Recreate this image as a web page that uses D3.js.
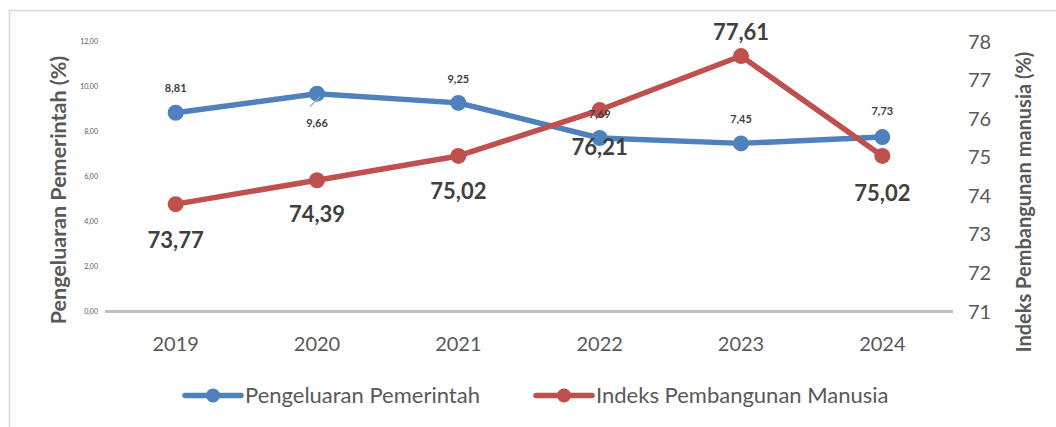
<!DOCTYPE html>
<html><head><meta charset="utf-8">
<script src="https://cdn.jsdelivr.net/npm/d3@7"></script>
<style>html,body{margin:0;padding:0;background:#fff;}svg{display:block;font-family:Lato,"Open Sans",sans-serif;}</style>
</head><body>
<svg id="c" width="1056" height="427"></svg>
<script>
const years = ["2019","2020","2021","2022","2023","2024"];
const pengeluaran = [8.81, 9.66, 9.25, 7.69, 7.45, 7.73];
const ipm = [73.77, 74.39, 75.02, 76.21, 77.61, 75.02];
const leftTicks = [0, 2, 4, 6, 8, 10, 12];
const rightTicks = [71, 72, 73, 74, 75, 76, 77, 78];
const seriesNames = ["Pengeluaran Pemerintah", "Indeks Pembangunan Manusia"];

const svg = d3.select("#c");
const blue = "#4F81BD", red = "#C0504D", txt = "#595959", lab = "#404040";
const fmt = v => v.toFixed(2).replace(".", ",");

// border
svg.append("path").attr("d","M9.5,427 L9.5,10.5 L1056,10.5").attr("fill","none").attr("stroke","#D9D9D9").attr("stroke-width",1.5);

const x = d3.scaleBand().domain(years).range([105, 953]);
const yL = d3.scaleLinear().domain([0, 12]).range([311, 41]);
const yR = d3.scaleLinear().domain([71, 78]).range([311, 41]);
const cx = d => x(d) + x.bandwidth()/2;

// left axis ticks
const gL = svg.append("g").attr("transform","translate(98,0)")
  .call(d3.axisLeft(yL).tickValues(leftTicks).tickSize(0).tickPadding(0).tickFormat(fmt));
gL.select(".domain").remove();
gL.selectAll("text").attr("font-size",7).attr("fill",txt).attr("font-family","Lato,sans-serif").attr("dy","0.35em");

// right axis ticks
const gR = svg.append("g").attr("transform","translate(968,0)")
  .call(d3.axisRight(yR).tickValues(rightTicks).tickSize(0).tickPadding(0).tickFormat(d3.format("d")));
gR.select(".domain").remove();
gR.selectAll("text").attr("font-size",20).attr("fill",txt).attr("font-family","Lato,sans-serif").attr("dy","0.35em");

// x axis
svg.append("line").attr("x1",105).attr("x2",953).attr("y1",311.5).attr("y2",311.5).attr("stroke","#BFBFBF").attr("stroke-width",3);
const gX = svg.append("g").attr("transform","translate(0,311)")
  .call(d3.axisBottom(x).tickSize(0).tickPadding(0));
gX.select(".domain").remove();
gX.selectAll("text").attr("font-size",20).attr("fill",txt).attr("font-family","Lato,sans-serif").attr("dy","0").attr("y",40);

// axis titles
svg.append("text").attr("transform","translate(66,190) rotate(-90)").attr("text-anchor","middle")
  .attr("font-size",21.5).attr("font-weight","bold").attr("fill",txt).text("Pengeluaran Pemerintah (%)");
svg.append("text").attr("transform","translate(1031,202) rotate(-90)").attr("text-anchor","middle")
  .attr("font-size",20).attr("font-weight","bold").attr("fill",txt).text("Indeks Pembangunan manusia (%)");

// lines
const lineL = d3.line().x((d,i)=>cx(years[i])).y(d=>yL(d));
const lineR = d3.line().x((d,i)=>cx(years[i])).y(d=>yR(d));
svg.append("path").attr("d",lineL(pengeluaran)).attr("fill","none").attr("stroke",blue).attr("stroke-width",5.5).attr("stroke-linejoin","round");
svg.selectAll(".pb").data(pengeluaran).enter().append("circle").attr("cx",(d,i)=>cx(years[i])).attr("cy",d=>yL(d)).attr("r",8).attr("fill",blue);
svg.append("path").attr("d",lineR(ipm)).attr("fill","none").attr("stroke",red).attr("stroke-width",5.5).attr("stroke-linejoin","round");
svg.selectAll(".pr").data(ipm).enter().append("circle").attr("cx",(d,i)=>cx(years[i])).attr("cy",d=>yR(d)).attr("r",8).attr("fill",red);

// blue labels: offsets relative to point
const blueOff = [-25, 29, -24, -24, -24, -26];
// leader line for 2020
svg.append("line").attr("x1",cx("2020")-7).attr("y1",yL(9.66)+13).attr("x2",cx("2020")+3).attr("y2",yL(9.66)+3).attr("stroke","#A6A6A6").attr("stroke-width",1.2);
svg.selectAll(".lb").data(pengeluaran).enter().append("text")
  .attr("x",(d,i)=>cx(years[i])).attr("y",(d,i)=>yL(d)+blueOff[i]).attr("text-anchor","middle").attr("dy","0.35em")
  .attr("font-size",11).attr("font-weight","bold").attr("fill",lab).text(d=>fmt(d));

const redOff = [36, 34, 35, 37, -24, 37];
svg.selectAll(".lr").data(ipm).enter().append("text")
  .attr("x",(d,i)=>cx(years[i])).attr("y",(d,i)=>yR(d)+redOff[i]).attr("text-anchor","middle").attr("dy","0.35em")
  .attr("font-size",22).attr("font-weight","bold").attr("fill",lab).text(d=>fmt(d));

// legend
const leg = [{c:blue,x:185},{c:red,x:536}];
leg.forEach((l,i)=>{
  svg.append("line").attr("x1",l.x).attr("x2",l.x+56).attr("y1",395.5).attr("y2",395.5).attr("stroke",l.c).attr("stroke-width",5.5).attr("stroke-linecap","round");
  svg.append("circle").attr("cx",l.x+28).attr("cy",395.5).attr("r",7).attr("fill",l.c);
  svg.append("text").attr("x",l.x+60).attr("y",395.5).attr("dy","0.35em").attr("font-size",22).attr("fill",txt).text(seriesNames[i]);
});
</script>
</body></html>
